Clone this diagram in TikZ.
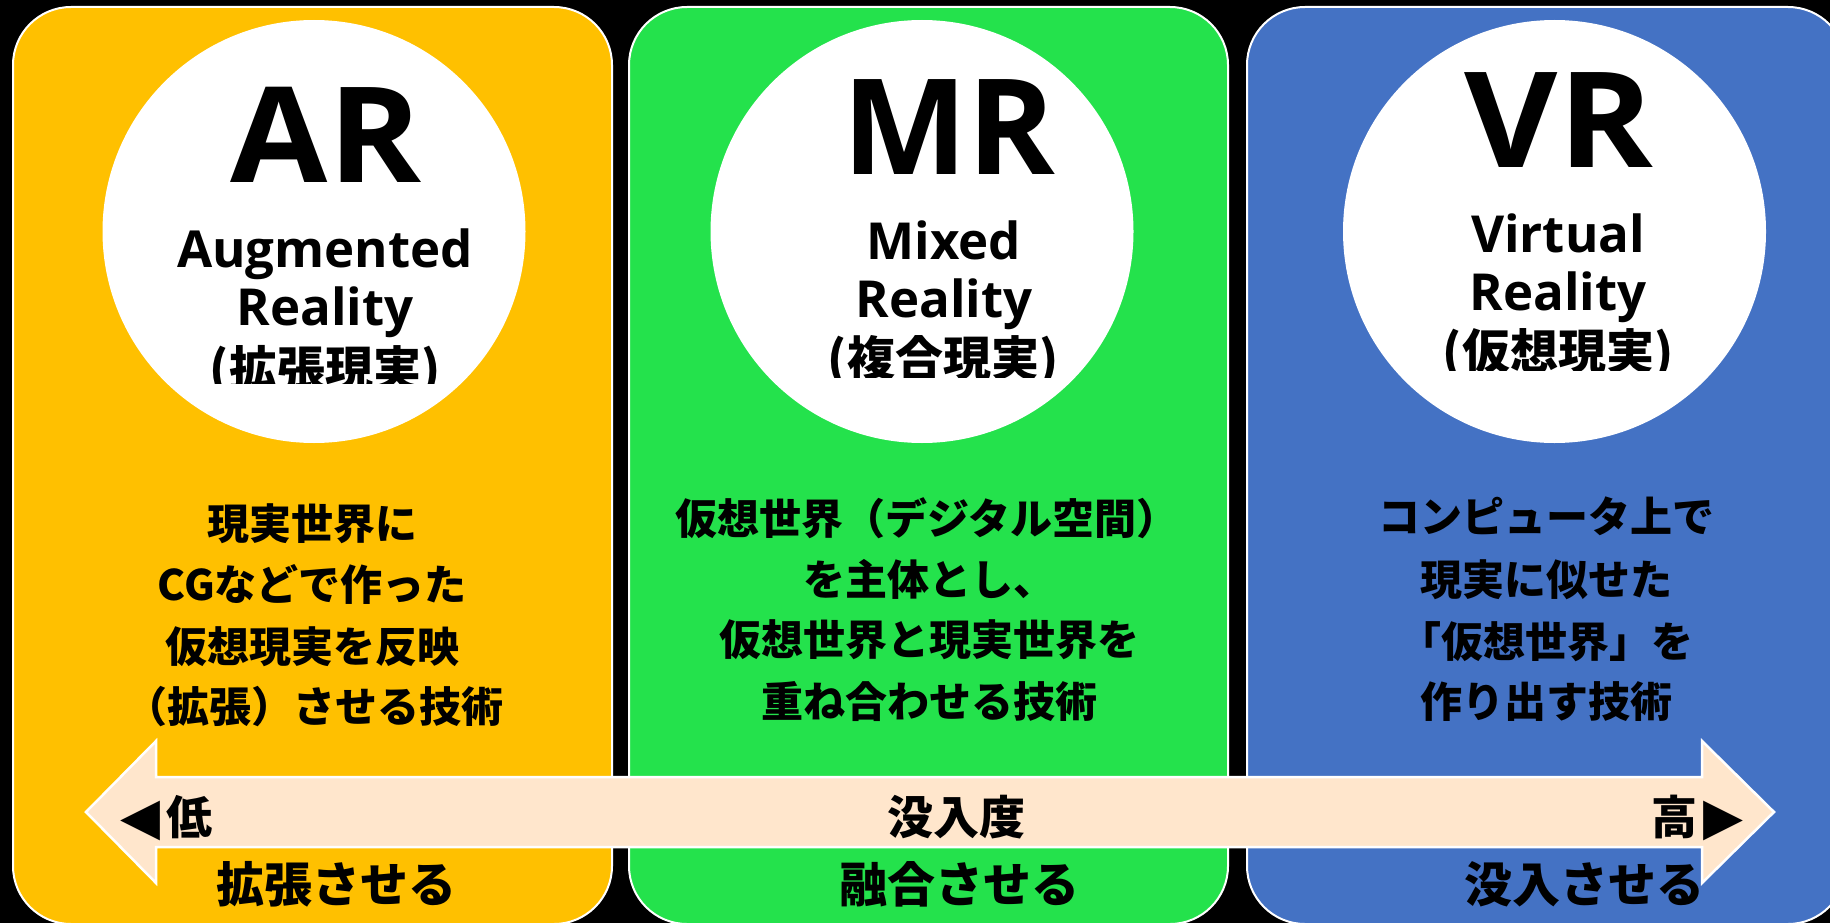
\documentclass[tikz,border=0pt]{standalone}
\usepackage{fontspec}
\newfontfamily\jp{Noto Sans CJK JP}
\newfontfamily\lat{Open Sans}
\newfontfamily\sym{DejaVu Sans}
\definecolor{argold}{HTML}{FFC000}
\definecolor{mrgreen}{HTML}{24E24C}
\definecolor{vrblue}{HTML}{4472C4}
\definecolor{peach}{HTML}{FFE6CC}
\newcommand{\tri}[1]{{\sym\fontsize{52}{52}\selectfont #1}}
\tikzset{
  panel/.style={draw=white, line width=2pt, rounded corners=58pt, minimum width=599pt, minimum height=917pt, inner sep=0pt},
  disc/.style={circle, fill=white, minimum size=423pt, inner sep=0pt},
  big/.style={font=\lat\bfseries\fontsize{133}{133}\selectfont, inner sep=0pt, anchor=base},
  sub/.style={font=\lat\bfseries\fontsize{51}{51}\selectfont, inner sep=0pt, anchor=base},
  subjp/.style={font=\jp\bfseries\fontsize{48}{48}\selectfont, inner sep=0pt, anchor=base},
  desc/.style={font=\jp\bfseries\fontsize{42}{42}\selectfont, inner sep=0pt, anchor=base},
  lab/.style={font=\jp\bfseries\fontsize{46}{46}\selectfont, inner sep=0pt, anchor=base},
  foot/.style={font=\jp\bfseries\fontsize{48}{48}\selectfont, inner sep=0pt, anchor=base},
  band/.style={fill=peach, draw=white, line width=2.5pt, line join=miter},
}
\begin{document}
\begin{tikzpicture}[x=1pt,y=-1pt]
\useasboundingbox (0,0) rectangle (1830,923);
\clip (0,0) rectangle (1830,923);
\fill[black] (0,0) rectangle (1830,923);

% panels
\node[panel, fill=argold] (arpanel) at (312.5,465.5) {};
\node[panel, fill=mrgreen] (mrpanel) at (928.5,465.5) {};
\node[panel, fill=vrblue] (vrpanel) at (1546.5,465.5) {};

% circles
\node[disc] (arcircle) at (314,231.5) {};
\node[disc] (mrcircle) at (922,231.5) {};
\node[disc] (vrcircle) at (1554.5,231.5) {};

% circle texts
\node[big, xscale=1.06] (arbig) at (326,182) {AR};
\node[sub] (ar1) at (325,267) {Augmented};
\node[sub] (ar2) at (325,325) {Reality};
\begin{scope}
  \clip (100,300) rectangle (550,383);
  \node[subjp] (ar3) at (325,386) {(拡張現実)};
\end{scope}

\node[big] (mrbig) at (949,174) {MR};
\node[sub] (mr1) at (944,259) {Mixed};
\node[sub] (mr2) at (944,317) {Reality};
\begin{scope}
  \clip (700,290) rectangle (1150,377);
  \node[subjp] (mr3) at (943,376) {(複合現実)};
\end{scope}

\node[big, xscale=1.08] (vrbig) at (1559,167) {VR};
\node[sub] (vr1) at (1558,252) {Virtual};
\node[sub] (vr2) at (1558,310) {Reality};
\begin{scope}
  \clip (1330,285) rectangle (1780,370);
  \node[subjp] (vr3) at (1558,369) {(仮想現実)};
\end{scope}

% descriptions
\node[desc] (ard1) at (312,539) {現実世界に};
\node[desc] (ard2) at (312,600) {CGなどで作った};
\node[desc] (ard3) at (312,662) {仮想現実を反映};
\node[desc] (ard4) at (314,722) {（拡張）させる技術};

\node[desc] (mrd1) at (927,534) {仮想世界（デジタル空間）};
\node[desc] (mrd2) at (929,595) {を主体とし、};
\node[desc] (mrd3) at (929,655) {仮想世界と現実世界を};
\node[desc] (mrd4) at (929,717) {重ね合わせる技術};

\node[desc] (vrd1) at (1546,532) {コンピュータ上で};
\node[desc] (vrd2) at (1546,595) {現実に似せた};
\node[desc] (vrd3) at (1546,657) {「仮想世界」を};
\node[desc] (vrd4) at (1546,717) {作り出す技術};

% double arrow band
\draw[band] (86,812) -- (156,741) -- (156,777) -- (1702,777) -- (1702,741)
  -- (1774,812) -- (1702,883) -- (1702,847) -- (156,847) -- (156,883) -- cycle;

\node[lab, anchor=base west] (low) at (120,834) {\tri{◀}\hspace{6pt}低};
\node[lab, anchor=base east] (high) at (1744,834) {高\hspace{6pt}\tri{▶}};
\node[lab] (depth) at (956,834) {没入度};

% bottom labels
\node[foot] (arfoot) at (336,902) {拡張させる};
\node[foot] (mrfoot) at (959,902) {融合させる};
\node[foot] (vrfoot) at (1584,902) {没入させる};
\end{tikzpicture}
\end{document}
